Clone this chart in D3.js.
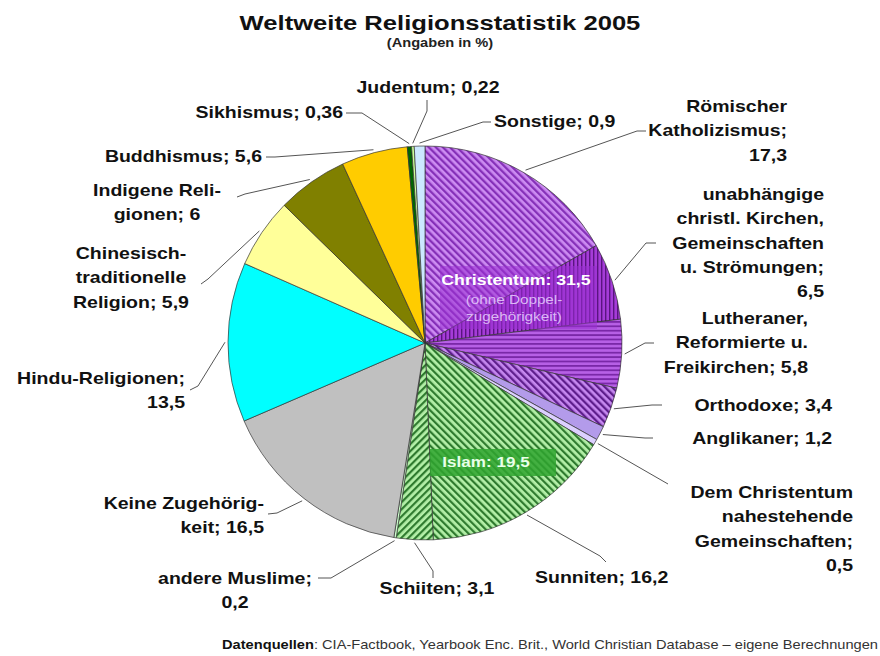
<!DOCTYPE html>
<html>
<head>
<meta charset="utf-8">
<script src="https://cdn.jsdelivr.net/npm/d3@7"></script>
<style>
  body { margin: 0; background: #fff; }
  text { font-family: "Liberation Sans", Arial, sans-serif; }
</style>
</head>
<body>
<div id="chart"></div>
<script>
"use strict";

// slices clockwise from 12 o'clock
const names = ["Römischer Katholizismus", "unabhängige christl. Kirchen", "Lutheraner", "Orthodoxe",
    "Anglikaner", "Dem Christentum nahestehende", "Sunniten", "Schiiten", "andere Muslime",
    "Keine Zugehörigkeit", "Hindu-Religionen", "Chinesisch-traditionelle Religion",
    "Indigene Religionen", "Buddhismus", "Sikhismus", "Judentum", "Sonstige"];
const values = [17.3, 6.5, 5.8, 3.4, 1.2, 0.5, 16.2, 3.1, 0.2, 16.5, 13.5, 5.9, 6, 5.6, 0.36, 0.22, 0.9];
const labelLines = [
    ["Römischer", "Katholizismus;", "17,3"],
    ["unabhängige", "christl. Kirchen,", "Gemeinschaften", "u. Strömungen;", "6,5"],
    ["Lutheraner,", "Reformierte u.", "Freikirchen; 5,8"],
    ["Orthodoxe; 3,4"],
    ["Anglikaner; 1,2"],
    ["Dem Christentum", "nahestehende", "Gemeinschaften;", "0,5"],
    ["Sunniten; 16,2"],
    ["Schiiten; 3,1"],
    ["andere Muslime;", "0,2"],
    ["Keine Zugehörig-", "keit; 16,5"],
    ["Hindu-Religionen;", "13,5"],
    ["Chinesisch-", "traditionelle", "Religion; 5,9"],
    ["Indigene Reli-", "gionen; 6"],
    ["Buddhismus; 5,6"],
    ["Sikhismus; 0,36"],
    ["Judentum; 0,22"],
    ["Sonstige; 0,9"]
];
const groupLabels = ["Christentum: 31,5", "Islam: 19,5"];
const groupNote = ["(ohne Doppel-", "zugehörigkeit)"];

const W = 880, H = 656;
const cx = 425, cy = 343, R = 197;
const SX = 1.22; // text in the picture is stretched sideways

// label placement: text anchor point, first baseline, leader points near the text
const layout = [
    {x: 787, y: 112, a: "end", lead: [[646, 131], [637, 131]]},
    {x: 824, y: 200, a: "end", lead: [[656, 243], [646, 243]]},
    {x: 808, y: 324, a: "end", lead: [[654, 343], [645, 343]]},
    {x: 832, y: 411, a: "end", lead: [[662, 405], [652, 405]]},
    {x: 832, y: 444, a: "end", lead: [[653, 438], [645, 438]]},
    {x: 853, y: 498, a: "end", lead: [[668, 484]]},
    {x: 535, y: 583, a: "start", lead: [[606, 562], [600, 556]]},
    {x: 437, y: 594, a: "middle", lead: [[433, 578], [433, 571]]},
    {x: 235, y: 584, a: "middle", lead: [[318, 578], [331, 578]]},
    {x: 264, y: 509, a: "end", lead: [[268, 514], [277, 513]]},
    {x: 185, y: 384, a: "end", lead: [[190, 390], [198, 386]]},
    {x: 131, y: 259, a: "middle", lead: [[201, 284], [208, 279]]},
    {x: 157, y: 196, a: "middle", lead: [[237, 197], [245, 194]]},
    {x: 262, y: 162, a: "end", lead: [[266, 157], [275, 157]]},
    {x: 343, y: 118, a: "end", lead: [[346, 113], [362, 113]]},
    {x: 428, y: 93, a: "middle", lead: [[427, 100], [427, 111]]},
    {x: 494, y: 127, a: "start", lead: [[491, 122], [483, 122]]}
];

const svg = d3.select("#chart").append("svg")
    .attr("width", W)
    .attr("height", H);

// hatch patterns
const defs = svg.append("defs");
function hatch(id, base, line, angle, size, lw) {
    const p = defs.append("pattern")
        .attr("id", id)
        .attr("patternUnits", "userSpaceOnUse")
        .attr("width", size)
        .attr("height", size)
        .attr("patternTransform", "rotate(" + angle + ")");
    p.append("rect").attr("width", size).attr("height", size).attr("fill", base);
    p.append("rect").attr("width", lw).attr("height", size).attr("fill", line);
}
hatch("hKath", "#cd8cf2", "#8530b8", -45, 5, 2.3);
hatch("hUnab", "#a53cd8", "#5a1480", 0, 4, 1.4);
hatch("hLuth", "#b760e6", "#7a28a8", 90, 4.4, 1.8);
hatch("hOrth", "#c688f0", "#5e1e8c", -45, 5, 2.3);
hatch("hSunn", "#b4f0a8", "#2e7a2e", -45, 5, 2.2);
hatch("hSchi", "#b4f0a8", "#2e7a2e", 45, 5, 2.2);

const fills = ["url(#hKath)", "url(#hUnab)", "url(#hLuth)", "url(#hOrth)", "#b39bea", "#dcd0ff",
    "url(#hSunn)", "url(#hSchi)", "#ccffcc", "#c0c0c0", "#00ffff", "#ffff99", "#808000",
    "#ffcc00", "#006600", "#ccff99", "#cce8ff"];

const pie = d3.pie().sort(null).value(d => d)(values);
const arc = d3.arc().innerRadius(0).outerRadius(R);
const edge = d3.arc().innerRadius(R + 3).outerRadius(R + 3);

const gPie = svg.append("g").attr("transform", "translate(" + cx + "," + cy + ")");
gPie.selectAll("path")
    .data(pie)
    .enter()
    .append("path")
    .attr("d", arc)
    .attr("fill", (d, i) => fills[i])
    .attr("stroke", "#333")
    .attr("stroke-width", 0.7);

// leader lines
const line = d3.line();
svg.append("g").selectAll("path")
    .data(pie)
    .enter()
    .append("path")
    .attr("d", (d, i) => {
        const c = edge.centroid(d);
        return line(layout[i].lead.concat([[cx + c[0], cy + c[1]]]));
    })
    .attr("fill", "none")
    .attr("stroke", "#555")
    .attr("stroke-width", 1);

// bands behind the group labels
svg.append("rect")
    .attr("x", 440).attr("y", 266).attr("width", 157).attr("height", 63)
    .attr("fill", "#9b2fd2").attr("opacity", 0.55);
svg.append("rect")
    .attr("x", 430).attr("y", 449).attr("width", 126).attr("height", 27)
    .attr("fill", "#2fa52f").attr("opacity", 0.85);

// all texts in a sideways-stretched group
const gt = svg.append("g").attr("transform", "scale(" + SX + ",1)");

gt.append("text")
    .attr("x", 440 / SX).attr("y", 30)
    .attr("text-anchor", "middle")
    .attr("font-size", 21).attr("font-weight", "bold").attr("fill", "#111")
    .text("Weltweite Religionsstatistik 2005");
gt.append("text")
    .attr("x", 440 / SX).attr("y", 47)
    .attr("text-anchor", "middle")
    .attr("font-size", 12).attr("font-weight", "bold").attr("fill", "#222")
    .text("(Angaben in %)");

layout.forEach((p, i) => {
    const t = gt.append("text")
        .attr("text-anchor", p.a)
        .attr("font-size", 16)
        .attr("font-weight", "bold")
        .attr("fill", "#111");
    labelLines[i].forEach((s, k) => {
        t.append("tspan")
            .attr("x", p.x / SX)
            .attr("y", p.y + k * 24.3)
            .text(s);
    });
});

gt.append("text")
    .attr("x", 516 / SX).attr("y", 285)
    .attr("text-anchor", "middle")
    .attr("font-size", 14.5).attr("font-weight", "bold").attr("fill", "#fff")
    .text(groupLabels[0]);
groupNote.forEach((s, k) => {
    gt.append("text")
        .attr("x", 514 / SX).attr("y", 304 + k * 17)
        .attr("text-anchor", "middle")
        .attr("font-size", 12.5).attr("fill", "#dcb8f5")
        .text(s);
});
gt.append("text")
    .attr("x", 486 / SX).attr("y", 467)
    .attr("text-anchor", "middle")
    .attr("font-size", 14).attr("font-weight", "bold").attr("fill", "#e8ffe8")
    .text(groupLabels[1]);

const foot = gt.append("text")
    .attr("x", 878 / SX).attr("y", 649)
    .attr("text-anchor", "end")
    .attr("font-size", 12).attr("fill", "#333");
foot.append("tspan").attr("font-weight", "bold").attr("fill", "#111").text("Datenquellen");
foot.append("tspan").text(": CIA-Factbook, Yearbook Enc. Brit., World Christian Database – eigene Berechnungen");
</script>
</body>
</html>
